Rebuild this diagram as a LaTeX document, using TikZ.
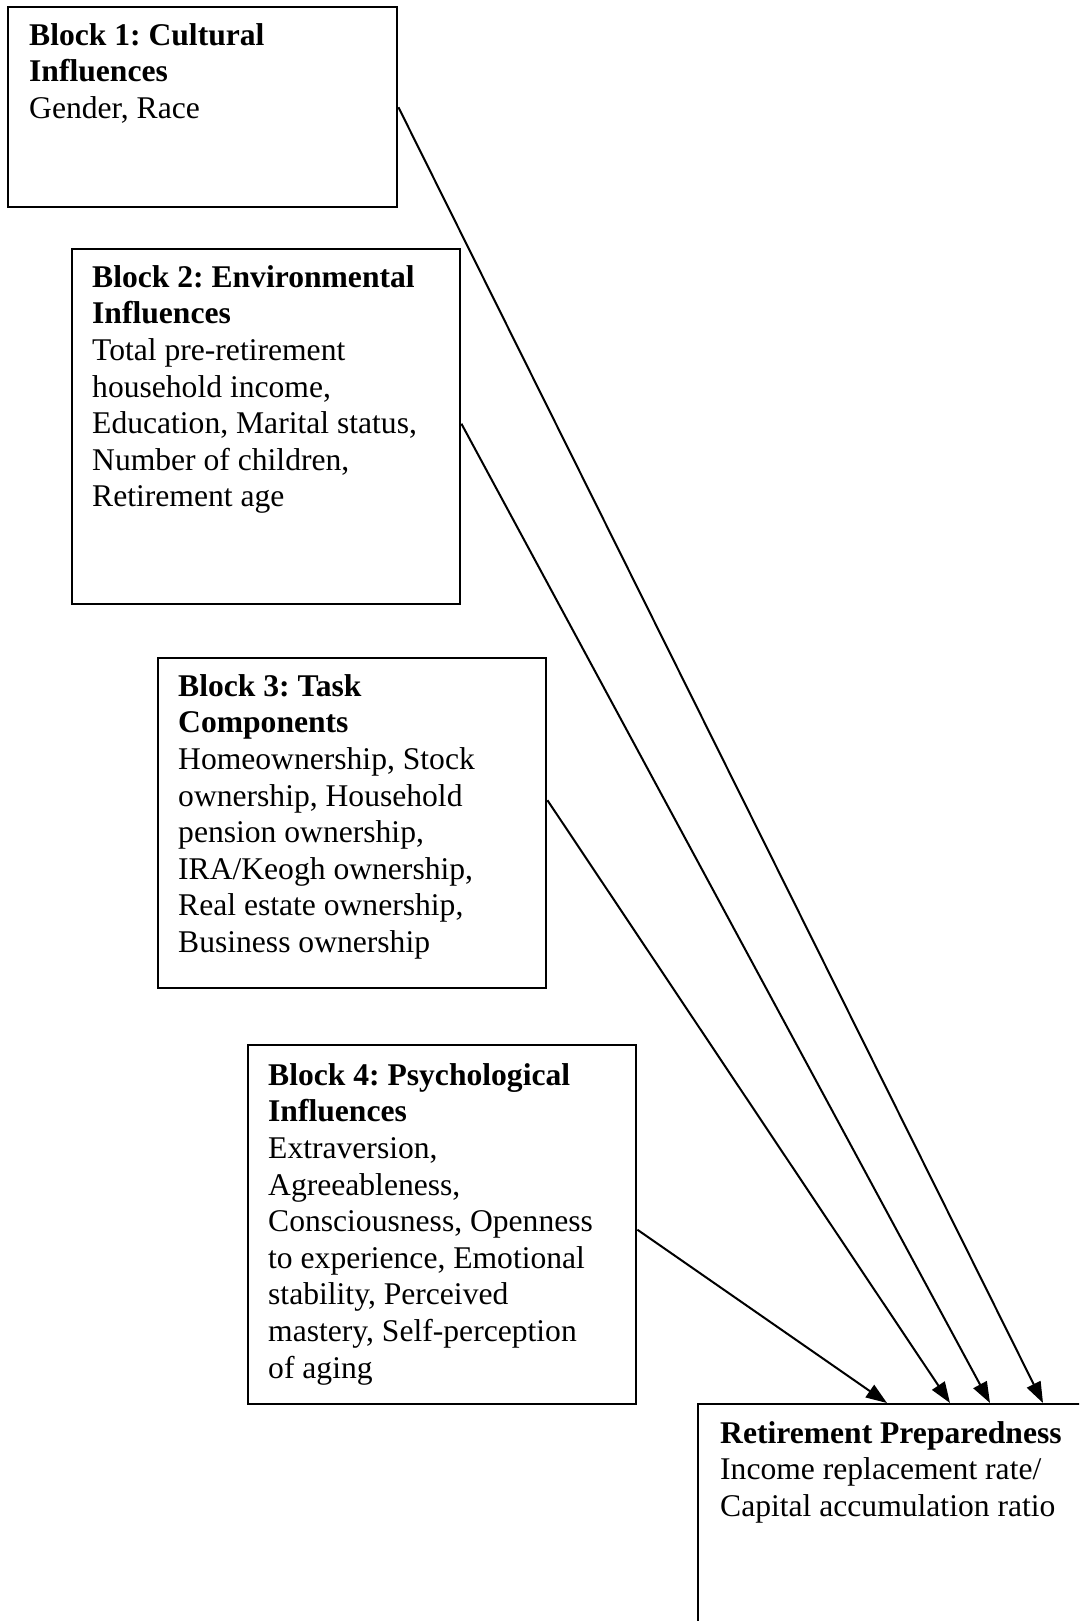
\documentclass[tikz,border=0pt]{standalone}
\usepackage{fontspec}
\setmainfont{Liberation Serif}
\usetikzlibrary{arrows.meta}
\frenchspacing
\begin{document}
\begin{tikzpicture}[x=1pt,y=-1pt,
  blockbox/.style={draw, line width=2.4pt, rectangle, inner sep=0pt, anchor=north west},
  blocktext/.style={anchor=north west, inner sep=0pt, align=left, font=\fontsize{31.6}{36.6}\selectfont},
  conn/.style={line width=2pt, -{Triangle[length=21pt,width=15pt]}}]
\useasboundingbox (0,0) rectangle (1079,1621);
\clip (0,0) rectangle (1079,1621);
\fill[white] (0,0) rectangle (1079,1621);

\node[blockbox, minimum width=389pt, minimum height=200pt] (b1) at (7,6) {};
\node[blockbox, minimum width=388pt, minimum height=355pt] (b2) at (71,248) {};
\node[blockbox, minimum width=388pt, minimum height=330pt] (b3) at (157,657) {};
\node[blockbox, minimum width=388pt, minimum height=359pt] (b4) at (247,1044) {};
\node[blockbox, minimum width=420pt, minimum height=260pt] (b5) at (697,1403) {};

\node[blocktext] (t1) at (29,19.4) {\strut\textbf{Block 1: Cultural}\\\textbf{Influences}\\Gender, Race};
\node[blocktext] (t2) at (92,261.4) {\strut\textbf{Block 2: Environmental}\\\textbf{Influences}\\Total pre-retirement\\household income,\\Education, Marital status,\\Number of children,\\Retirement age};
\node[blocktext] (t3) at (178,670.4) {\strut\textbf{Block 3: Task}\\\textbf{Components}\\Homeownership, Stock\\ownership, Household\\pension ownership,\\IRA/Keogh ownership,\\Real estate ownership,\\Business ownership};
\node[blocktext] (t4) at (268,1059.4) {\strut\textbf{Block 4: Psychological}\\\textbf{Influences}\\Extraversion,\\Agreeableness,\\Consciousness, Openness\\to experience, Emotional\\stability, Perceived\\mastery, Self-perception\\of aging};
\node[blocktext] (t5) at (720,1417.4) {\strut\textbf{Retirement Preparedness}\\Income replacement rate/\\Capital accumulation ratio};

\draw[conn] (b1.east) -- ([xshift=346pt]b5.north west);
\draw[conn] ([yshift=3pt]b2.east) -- ([xshift=293pt]b5.north west);
\draw[conn] ([yshift=23pt]b3.east) -- ([xshift=253pt]b5.north west);
\draw[conn] ([yshift=-5pt]b4.east) -- ([xshift=190pt]b5.north west);
\end{tikzpicture}
\end{document}
